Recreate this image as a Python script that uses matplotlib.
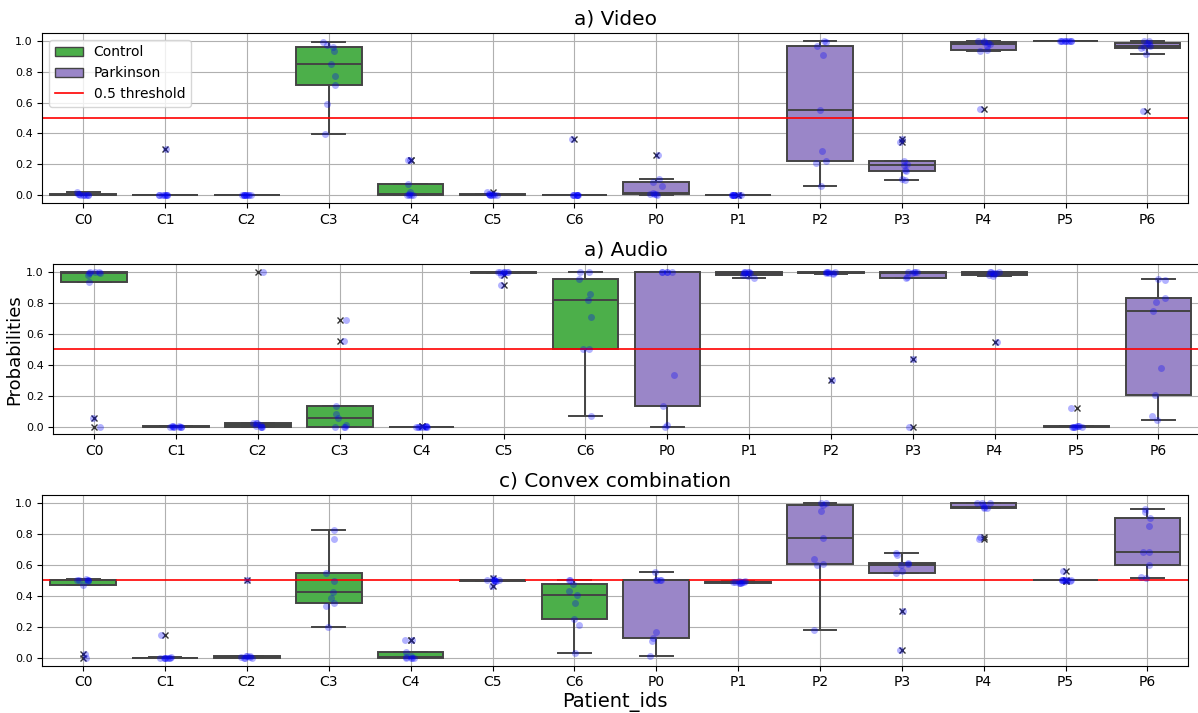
import numpy as np
import pandas as pd
import matplotlib
matplotlib.use('Agg')
import matplotlib.pyplot as plt
import seaborn as sns
from matplotlib.patches import Patch
from matplotlib.lines import Line2D

patient_ids = ['C0', 'C1', 'C2', 'C3', 'C4', 'C5', 'C6',
               'P0', 'P1', 'P2', 'P3', 'P4', 'P5', 'P6']
groups = ['Control'] * 7 + ['Parkinson'] * 7

# per-recording probabilities, one list per patient
video_probs = [
    [0.0, 0.0, 0.0, 0.002, 0.003, 0.005, 0.008, 0.012, 0.02],
    [0.0, 0.0, 0.0, 0.001, 0.002, 0.003, 0.004, 0.005, 0.3],
    [0.0, 0.0, 0.0, 0.0, 0.0, 0.001, 0.001, 0.002, 0.002],
    [0.395, 0.59, 0.71, 0.77, 0.85, 0.93, 0.96, 0.97, 0.99],
    [0.0, 0.0, 0.003, 0.005, 0.008, 0.02, 0.072, 0.23, 0.232],
    [0.0, 0.002, 0.004, 0.005, 0.006, 0.007, 0.008, 0.01, 0.025],
    [0.0, 0.0, 0.0, 0.0, 0.001, 0.001, 0.002, 0.003, 0.365],
    [0.005, 0.008, 0.01, 0.012, 0.015, 0.06, 0.085, 0.105, 0.258],
    [0.0, 0.0, 0.0, 0.0, 0.0, 0.001, 0.001, 0.002, 0.003],
    [0.064, 0.21, 0.22, 0.288, 0.551, 0.904, 0.968, 0.99, 0.995],
    [0.1, 0.108, 0.155, 0.167, 0.195, 0.2, 0.222, 0.342, 0.363],
    [0.56, 0.935, 0.94, 0.965, 0.975, 0.985, 0.99, 0.995, 0.995],
    [0.995, 0.997, 0.998, 0.999, 1.0, 1.0, 1.0, 1.0, 1.0],
    [0.547, 0.915, 0.95, 0.96, 0.968, 0.98, 0.985, 0.995, 1.0],
]

audio_probs = [
    [0.0, 0.055, 0.935, 0.98, 0.99, 0.995, 0.997, 1.0, 1.0],
    [0.0, 0.0, 0.0, 0.0, 0.0, 0.0, 0.001, 0.001, 0.002],
    [0.0, 0.0, 0.0, 0.003, 0.01, 0.02, 0.022, 0.025, 1.0],
    [0.0, 0.0, 0.0, 0.01, 0.055, 0.08, 0.13, 0.55, 0.69],
    [0.0, 0.0, 0.0, 0.0, 0.0, 0.0, 0.0, 0.001, 0.002],
    [0.916, 0.978, 0.994, 0.996, 0.997, 0.998, 1.0, 1.0, 1.0],
    [0.065, 0.5, 0.5, 0.706, 0.817, 0.856, 0.955, 1.0, 1.0],
    [0.0, 0.009, 0.135, 0.332, 1.0, 1.0, 1.0, 1.0, 1.0],
    [0.962, 0.975, 0.98, 0.99, 0.995, 0.997, 0.998, 0.999, 1.0],
    [0.301, 0.985, 0.99, 0.993, 0.995, 0.997, 0.998, 1.0, 1.0],
    [0.0, 0.437, 0.962, 0.965, 0.995, 0.998, 1.0, 1.0, 1.0],
    [0.544, 0.972, 0.98, 0.985, 0.99, 0.995, 0.998, 1.0, 1.0],
    [0.0, 0.0, 0.0, 0.0, 0.0, 0.001, 0.001, 0.002, 0.123],
    [0.041, 0.069, 0.206, 0.381, 0.748, 0.806, 0.832, 0.945, 0.953],
]

convex_probs = [
    [0.0, 0.028, 0.47, 0.495, 0.5, 0.5, 0.502, 0.505, 0.51],
    [0.0, 0.0, 0.0, 0.0, 0.001, 0.001, 0.002, 0.003, 0.15],
    [0.0, 0.0, 0.0, 0.003, 0.005, 0.01, 0.013, 0.015, 0.5],
    [0.202, 0.337, 0.354, 0.384, 0.427, 0.494, 0.55, 0.769, 0.827],
    [0.0, 0.0, 0.0, 0.002, 0.004, 0.01, 0.035, 0.115, 0.115],
    [0.462, 0.495, 0.498, 0.5, 0.5, 0.5, 0.501, 0.502, 0.515],
    [0.03, 0.215, 0.251, 0.354, 0.408, 0.43, 0.476, 0.5, 0.5],
    [0.013, 0.107, 0.129, 0.168, 0.5, 0.5, 0.5, 0.505, 0.554],
    [0.481, 0.485, 0.485, 0.488, 0.49, 0.49, 0.49, 0.495, 0.495],
    [0.183, 0.6, 0.608, 0.64, 0.775, 0.947, 0.985, 0.995, 1.0],
    [0.052, 0.303, 0.55, 0.558, 0.6, 0.605, 0.612, 0.666, 0.679],
    [0.765, 0.78, 0.965, 0.968, 0.97, 0.985, 0.995, 0.998, 1.0],
    [0.495, 0.498, 0.5, 0.5, 0.5, 0.5, 0.5, 0.502, 0.56],
    [0.518, 0.524, 0.597, 0.68, 0.683, 0.85, 0.902, 0.94, 0.962],
]

titles = ['a) Video', 'a) Audio', 'c) Convex combination']
colors = {'Control': '#4caf4a', 'Parkinson': '#9a86c8'}
edge = '#444444'


def to_frame(probs):
    rows = []
    for pid, grp, vals in zip(patient_ids, groups, probs):
        for v in vals:
            rows.append((pid, grp, v))
    return pd.DataFrame(rows, columns=['Patient_ids', 'group', 'Probabilities'])


np.random.seed(3)
fig, axes = plt.subplots(3, 1, figsize=(11.98, 7.13), dpi=100)
# the middle panel sits a little to the right (it carries the y label)
axes[0].set_position([0.0353, 0.715, 0.9566, 0.239])
axes[1].set_position([0.0445, 0.3909, 0.9566, 0.2388])
axes[2].set_position([0.0353, 0.0664, 0.9566, 0.2394])

for ax, title, probs in zip(axes, titles, [video_probs, audio_probs, convex_probs]):
    df = to_frame(probs)
    sns.boxplot(data=df, x='Patient_ids', y='Probabilities', hue='group',
                order=patient_ids, palette=colors, dodge=False, saturation=1,
                linewidth=1.4, linecolor=edge, legend=False,
                flierprops=dict(marker='x', markeredgecolor='#333333', markersize=5), ax=ax)
    sns.stripplot(data=df, x='Patient_ids', y='Probabilities', order=patient_ids,
                  color='blue', alpha=0.3, jitter=0.08, size=5, ax=ax)
    ax.axhline(0.5, color='red', lw=1.2)
    ax.grid(True)
    ax.set_title(title, fontsize=14.5)
    ax.set_xlabel('')
    ax.set_ylabel('')
    ax.set_xlim(-0.5, 13.5)
    ax.set_ylim(-0.05, 1.05)
    ax.set_yticks([0.0, 0.2, 0.4, 0.6, 0.8, 1.0])
    ax.tick_params(axis='x', labelsize=10)
    ax.tick_params(axis='y', labelsize=8)

axes[1].set_ylabel('Probabilities', fontsize=13)
axes[1].yaxis.set_label_coords(-0.0262, 0.5)
axes[2].set_xlabel('Patient_ids', fontsize=14, labelpad=2)

handles = [Patch(facecolor=colors['Control'], edgecolor=edge, label='Control'),
           Patch(facecolor=colors['Parkinson'], edgecolor=edge, label='Parkinson'),
           Line2D([0], [0], color='red', lw=1.2, label='0.5 threshold')]
axes[0].legend(handles=handles, loc='upper left', fontsize=10)

plt.savefig('out.png', dpi=100)
